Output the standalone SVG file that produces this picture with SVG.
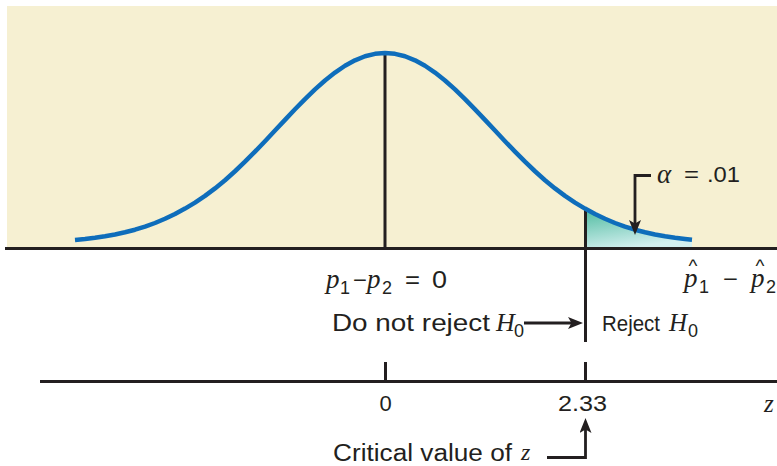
<svg xmlns="http://www.w3.org/2000/svg" width="777" height="466" viewBox="0 0 777 466">
<style>
.sans{font-family:"Liberation Sans",Arial,sans-serif;fill:#231f20}
.it{font-family:"Liberation Serif","Times New Roman",serif;font-style:italic;fill:#231f20}
.ln{stroke:#231f20;stroke-width:3;fill:none}
.arr{stroke:#231f20;stroke-width:2.8;fill:none;marker-end:url(#ah)}
</style>
<defs>
<marker id="ah" markerUnits="userSpaceOnUse" markerWidth="17" markerHeight="13" refX="9" refY="6" orient="auto" viewBox="0 0 17 13">
<path d="M0,0 L15,6 L0,12 L3.5,6 Z" fill="#231f20"/>
</marker>
<linearGradient id="shade" x1="0" y1="0" x2="0.4" y2="1">
<stop offset="0" stop-color="#4dbb9f"/>
<stop offset="1" stop-color="#d3efef"/>
</linearGradient>
</defs>
<rect x="7" y="6" width="770" height="242" fill="#f6f0d2"/>
<g id="tail">
<path d="M585,248 L585,208.6 L595,214 L605,218.8 L615,223 L625,226.6 L635,229.7 L645,232.3 L655,234.5 L665,236.3 L675,237.8 L685,239 L692,239.7 L692,248 Z" fill="url(#shade)"/>
</g>
<g id="axes">
<line class="ln" x1="5" y1="248.5" x2="777" y2="248.5"/>
<line class="ln" x1="385" y1="53" x2="385" y2="248"/>
<line class="ln" x1="585.5" y1="207" x2="585.5" y2="342"/>
<line class="ln" x1="40" y1="381.5" x2="777" y2="381.5"/>
<line class="ln" x1="385.5" y1="362" x2="385.5" y2="381"/>
<line class="ln" x1="585.5" y1="362" x2="585.5" y2="381"/>
</g>
<g id="curve">
<polyline fill="none" stroke="#0e6dbb" stroke-width="4.5" stroke-linejoin="round" stroke-linecap="butt" points="75,239.9 85,239 95,237.8 105,236.3 115,234.5 125,232.3 135,229.7 145,226.6 155,223 165,218.8 175,214 185,208.6 195,202.6 205,195.9 215,188.4 225,180.2 235,171.25 245,161.7 255,151.65 265,141.23 275,130.58 285,119.88 295,109.31 305,99.08 315,89.41 325,80.5 335,72.55 345,65.76 355,60.29 365,56.27 375,53.82 385,53 395,53.82 405,56.27 415,60.29 425,65.76 435,72.55 445,80.5 455,89.41 465,99.08 475,109.31 485,119.88 495,130.58 505,141.23 515,151.65 525,161.7 535,171.25 545,180.2 555,188.4 565,195.9 575,202.6 585,208.6 595,214 605,218.8 615,223 625,226.6 635,229.7 645,232.3 655,234.5 665,236.3 675,237.8 685,239 692,239.7"/>
</g>
<g id="connectors">
<polyline class="arr" points="651,175.5 635,175.5 635,229"/>
<line class="arr" x1="524" y1="323" x2="577" y2="323"/>
<polyline class="arr" points="547,457.5 585.5,457.5 585.5,424"/>
</g>
<g id="alpha-label">
<text x="657" y="183" class="it" font-size="27">α</text>
<text x="684" y="182" class="sans" font-size="22" textLength="15" lengthAdjust="spacingAndGlyphs">=</text>
<text x="707" y="182" class="sans" font-size="22" textLength="33" lengthAdjust="spacingAndGlyphs">.01</text>
</g>
<g id="diff-label">
<text x="326" y="288" class="it" font-size="27">p</text>
<text x="340" y="294" class="sans" font-size="18">1</text>
<text x="353" y="288" class="sans" font-size="23" textLength="14" lengthAdjust="spacingAndGlyphs">−</text>
<text x="367" y="288" class="it" font-size="27">p</text>
<text x="382" y="294" class="sans" font-size="18">2</text>
<text x="405" y="288" class="sans" font-size="23" textLength="15" lengthAdjust="spacingAndGlyphs">=</text>
<text x="432" y="288" class="sans" font-size="23" textLength="15" lengthAdjust="spacingAndGlyphs">0</text>
</g>
<g id="phat-label">
<text x="684" y="287" class="it" font-size="27">p<tspan class="sans" font-style="normal" font-size="19" x="688.5" y="272">^</tspan><tspan class="sans" font-style="normal" font-size="18" x="699" y="293">1</tspan></text>
<text x="723" y="287" class="sans" font-size="23" textLength="15" lengthAdjust="spacingAndGlyphs">−</text>
<text x="751" y="287" class="it" font-size="27">p<tspan class="sans" font-style="normal" font-size="19" x="755.5" y="272">^</tspan><tspan class="sans" font-style="normal" font-size="18" x="766" y="293">2</tspan></text>
</g>
<g id="do-not-reject">
<text x="332" y="331" class="sans" font-size="23" textLength="158" lengthAdjust="spacingAndGlyphs">Do not reject</text>
<text x="496" y="331" class="it" font-size="26">H</text>
<text x="514" y="337" class="sans" font-size="18">0</text>
</g>
<g id="reject">
<text x="602" y="331" class="sans" font-size="22" textLength="58" lengthAdjust="spacingAndGlyphs">Reject</text>
<text x="669" y="331" class="it" font-size="25">H</text>
<text x="688" y="337" class="sans" font-size="18">0</text>
</g>
<g id="z-axis-labels">
<text x="385.5" y="411" class="sans" font-size="22" text-anchor="middle">0</text>
<text x="558" y="411" class="sans" font-size="22" textLength="49" lengthAdjust="spacingAndGlyphs">2.33</text>
<text x="764" y="412" class="it" font-size="25">z</text>
</g>
<g id="critical-label">
<text x="333" y="461" class="sans" font-size="23" textLength="179" lengthAdjust="spacingAndGlyphs">Critical value of</text>
<text x="521" y="460" class="it" font-size="24">z</text>
</g>
</svg>
